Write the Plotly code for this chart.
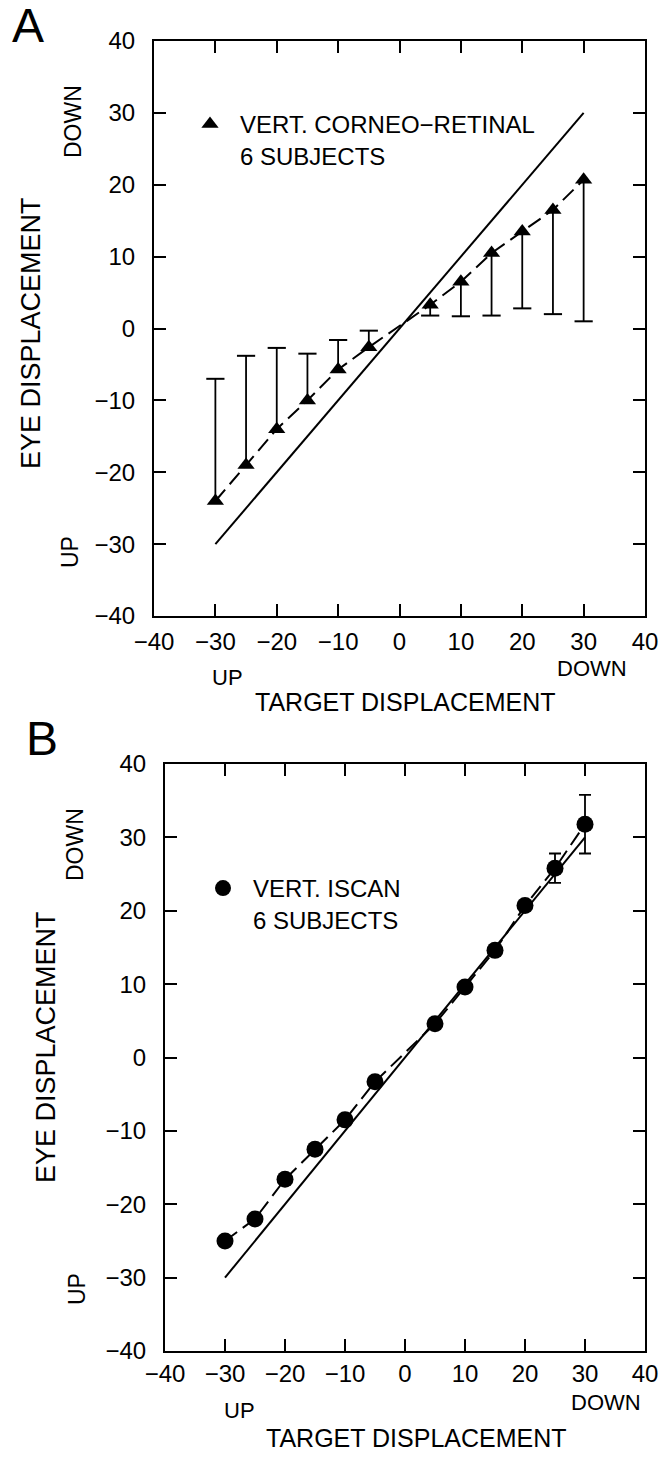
import plotly.graph_objects as go

W, H = 666, 1458
FONT = "Liberation Sans, Arial, sans-serif"

# ---------------- data ----------------
target_x = [-30, -25, -20, -15, -10, -5, 5, 10, 15, 20, 25, 30]
# Panel A: vertical corneo-retinal (mean and end of one-sided error bar)
cr_mean = [-24.0, -19.0, -14.0, -10.0, -5.7, -2.6, 3.3, 6.5, 10.5, 13.5, 16.5, 20.7]
cr_bar_end = [-7.0, -3.8, -2.7, -3.5, -1.6, -0.3, 1.8, 1.7, 1.8, 2.8, 2.0, 1.0]
# Panel B: vertical ISCAN (mean and symmetric error)
is_mean = [-25.0, -22.0, -16.6, -12.5, -8.5, -3.3, 4.6, 9.6, 14.6, 20.7, 25.8, 31.8]
is_err = [0, 0, 0, 0, 0, 0, 0, 0, 0, 0, 2.0, 4.0]
# identity line
ident_x = [-30, 30]
ident_y = [-30, 30]
tick_vals = [-40, -30, -20, -10, 0, 10, 20, 30, 40]

# one-sided error bars of panel A as segments (mean -> bar end)
bar_x, bar_y = [], []
for xv, m, e in zip(target_x, cr_mean, cr_bar_end):
    bar_x += [xv, xv, None]
    bar_y += [m, e, None]


def px(x):
    return x / W


def py(y):
    return 1 - y / H


fig = go.Figure()

# ---- Panel A ----
fig.add_trace(go.Scatter(x=ident_x, y=ident_y, mode="lines",
                         line=dict(color="black", width=2),
                         xaxis="x", yaxis="y", showlegend=False))
fig.add_trace(go.Scatter(x=bar_x, y=bar_y, mode="lines",
                         line=dict(color="black", width=1.8),
                         xaxis="x", yaxis="y", showlegend=False))
fig.add_trace(go.Scatter(x=target_x, y=cr_bar_end, mode="markers",
                         marker=dict(symbol="line-ew", size=13,
                                     line=dict(color="black", width=2)),
                         xaxis="x", yaxis="y", showlegend=False))
fig.add_trace(go.Scatter(x=target_x, y=cr_mean, mode="lines+markers",
                         line=dict(color="black", width=2, dash="15px,7px"),
                         marker=dict(symbol="triangle-up", size=15, color="black"),
                         xaxis="x", yaxis="y", showlegend=False))
fig.add_trace(go.Scatter(x=[None], y=[None], mode="markers",
                         marker=dict(symbol="triangle-up", size=15, color="black"),
                         name="VERT. CORNEO\u2212RETINAL<br>6 SUBJECTS",
                         legend="legend", showlegend=True))

# ---- Panel B ----
fig.add_trace(go.Scatter(x=ident_x, y=ident_y, mode="lines",
                         line=dict(color="black", width=2),
                         xaxis="x2", yaxis="y2", showlegend=False))
fig.add_trace(go.Scatter(x=target_x, y=is_mean, mode="lines+markers",
                         line=dict(color="black", width=2, dash="15px,7px"),
                         marker=dict(symbol="circle", size=17, color="black"),
                         error_y=dict(type="data", array=is_err, symmetric=True,
                                      color="black", thickness=1.8, width=6),
                         xaxis="x2", yaxis="y2", showlegend=False))
fig.add_trace(go.Scatter(x=[None], y=[None], mode="markers",
                         marker=dict(symbol="circle", size=17, color="black"),
                         name="VERT. ISCAN<br>6 SUBJECTS",
                         xaxis="x2", yaxis="y2",
                         legend="legend2", showlegend=True))

axis_common = dict(range=[-40, 40], tickvals=tick_vals, ticks="inside", ticklen=12,
                   tickwidth=2, tickcolor="black", showline=True, linewidth=2,
                   linecolor="black", mirror="ticks", showgrid=False, zeroline=False,
                   automargin=False,
                   tickfont=dict(size=24, family=FONT, color="black"))

A_x0, A_x1, A_y0, A_y1 = 154, 645, 41, 616
B_x0, B_x1, B_y0, B_y1 = 165, 645, 764, 1351

legend_common = dict(xanchor="left", yanchor="top", valign="top",
                     bgcolor="rgba(0,0,0,0)", borderwidth=0, itemwidth=50,
                     font=dict(size=24, family=FONT, color="black"),
                     itemsizing="trace")

fig.update_layout(
    template="none",
    width=W, height=H, autosize=False,
    margin=dict(l=0, r=0, t=0, b=0, pad=0, autoexpand=False),
    paper_bgcolor="white", plot_bgcolor="white",
    font=dict(family=FONT, color="black", size=22),
    xaxis=dict(axis_common, domain=[px(A_x0), px(A_x1)], anchor="y", ticklabelstandoff=3),
    yaxis=dict(axis_common, domain=[py(A_y1), py(A_y0)], anchor="x", ticklabelstandoff=12),
    xaxis2=dict(axis_common, domain=[px(B_x0), px(B_x1)], anchor="y2", ticklabelstandoff=0),
    yaxis2=dict(axis_common, domain=[py(B_y1), py(B_y0)], anchor="x2", ticklabelstandoff=12),
    legend=dict(legend_common, x=px(180), y=py(102)),
    legend2=dict(legend_common, x=px(193), y=py(866)),
)

ann = []


def add_text(text, x, y, size=22, angle=0):
    ann.append(dict(text=text, x=px(x), y=py(y), xref="paper", yref="paper",
                    xanchor="center", yanchor="middle", showarrow=False,
                    textangle=angle, font=dict(size=size, family=FONT, color="black")))


# Panel A labels
add_text("A", 28, 25, size=48)
add_text("EYE DISPLACEMENT", 31, 333, size=27, angle=-90)
add_text("DOWN", 73, 122, size=23, angle=-90)
add_text("UP", 70, 552, size=23, angle=-90)
add_text("UP", 227, 677)
add_text("DOWN", 592, 668)
add_text("TARGET DISPLACEMENT", 405, 702, size=25)
# Panel B labels
add_text("B", 42, 738, size=48)
add_text("EYE DISPLACEMENT", 46, 1047, size=27, angle=-90)
add_text("DOWN", 75, 845, size=23, angle=-90)
add_text("UP", 77, 1289, size=23, angle=-90)
add_text("UP", 239, 1410)
add_text("DOWN", 606, 1402)
add_text("TARGET DISPLACEMENT", 416, 1438, size=25)

fig.update_layout(annotations=ann)

fig.write_html("out.html", config={"displayModeBar": False},
               post_script="document.body.style.margin='0';")
